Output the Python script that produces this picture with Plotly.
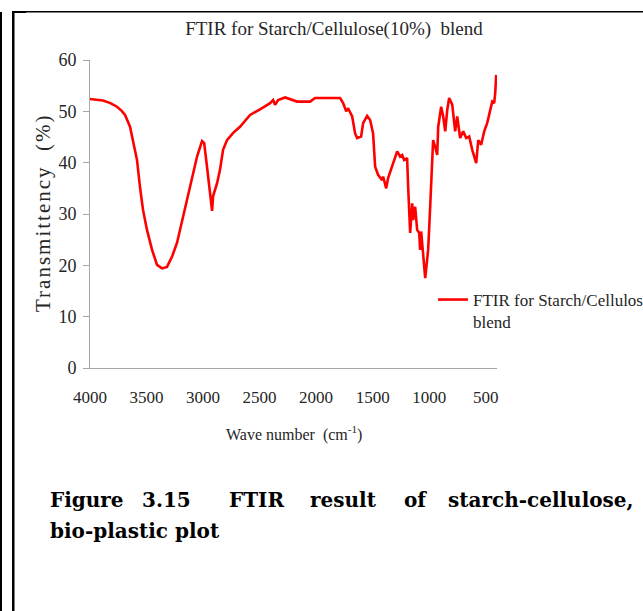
import plotly.graph_objects as go

# ---------------- data ----------------
wavenumber = [4000, 3940, 3885, 3820, 3761, 3720, 3690, 3646, 3619, 3584, 3558, 3531, 3496, 3451,
              3407, 3363, 3319, 3274, 3230, 3177, 3115, 3053, 3009, 2990, 2965, 2938, 2920, 2911,
              2876, 2850, 2823, 2788, 2734, 2673, 2584, 2496, 2407, 2380, 2363, 2336, 2274, 2168,
              2053, 2009, 1788, 1761, 1734, 1717, 1681, 1655, 1637, 1602, 1584, 1549, 1522, 1496,
              1478, 1451, 1416, 1407, 1380, 1363, 1318, 1283, 1257, 1239, 1221, 1195, 1186, 1168,
              1150, 1142, 1124, 1106, 1088, 1080, 1071, 1053, 1035, 1018, 1009, 991, 973, 965,
              947, 929, 920, 894, 876, 858, 840, 823, 796, 770, 752, 726, 699, 672, 646, 619,
              584, 566, 540, 513, 487, 460, 442, 425, 416, 407]
transmittance = [52.4, 52.3, 52.1, 51.6, 50.9, 50.1, 49.3, 47.0, 44.4, 40.5, 35.3, 30.8, 26.9, 23.0,
                 20.1, 19.4, 19.7, 21.7, 24.4, 29.5, 35.3, 41.2, 44.2, 43.8, 39.2, 34.1, 30.6, 33.5,
                 36.0, 38.6, 42.5, 44.4, 45.8, 47.0, 49.3, 50.4, 51.6, 52.2, 51.3, 52.2, 52.7, 51.9,
                 51.9, 52.6, 52.6, 51.6, 50.0, 50.6, 49.0, 45.7, 44.8, 45.1, 47.7, 49.1, 48.3, 45.7,
                 39.2, 37.6, 36.6, 37.3, 35.0, 37.0, 39.9, 42.2, 41.2, 41.5, 40.5, 40.9, 35.3, 26.3,
                 32.1, 28.8, 31.4, 26.9, 26.3, 23.0, 26.6, 21.7, 17.5, 21.1, 23.0, 31.4, 39.2, 44.4,
                 43.1, 41.5, 47.0, 50.9, 49.0, 46.1, 50.3, 52.6, 51.3, 46.1, 49.0, 44.8, 46.1, 44.8,
                 45.1, 42.5, 39.9, 44.4, 43.5, 46.1, 47.7, 50.3, 51.9, 51.6, 53.5, 57.1]

x_ticks = [4000, 3500, 3000, 2500, 2000, 1500, 1000, 500]
y_ticks = [0, 10, 20, 30, 40, 50, 60]

chart_title = "FTIR for Starch/Cellulose(10%)  blend"
series_name = "FTIR for Starch/Cellulose<br>blend"
caption_line1 = ["Figure", "3.15", "FTIR", "result", "of", "starch-cellulose,"]
caption_line2 = "bio-plastic plot"

# ---------------- layout geometry (pixels) ----------------
W_PX, H_PX = 643, 611
L, R, T, B = 90, 497, 60, 368
PW, PH = R - L, B - T


def px_x(p):
    return (p - L) / PW


def px_y(p):
    return (B - p) / PH


SERIF = "Liberation Serif, Times New Roman, serif"
TXT = "#262626"
AX = "#a6a6a6"

fig = go.Figure()
fig.add_trace(go.Scatter(x=wavenumber, y=transmittance, mode="lines",
                         line=dict(color="#ff0000", width=2.6),
                         name=series_name, showlegend=True))

fig.update_layout(
    width=W_PX, height=H_PX,
    margin=dict(l=L, r=W_PX - R, t=T, b=H_PX - B, autoexpand=False),
    paper_bgcolor="white", plot_bgcolor="white",
    title=dict(text=chart_title, xref="container", yref="container",
               x=334 / W_PX, y=1 - 28 / H_PX, xanchor="center", yanchor="middle",
               font=dict(family=SERIF, size=19, color=TXT)),
    xaxis=dict(range=[4000, 400], tickvals=x_ticks, ticktext=[str(v) for v in x_ticks],
               showgrid=False, zeroline=False, showline=True, linecolor=AX, linewidth=1,
               ticks="", ticklabelstandoff=14,
               tickfont=dict(family=SERIF, size=17, color=TXT)),
    yaxis=dict(range=[0, 60], tickvals=y_ticks, showgrid=False, zeroline=False,
               showline=True, linecolor=AX, linewidth=1, ticks="outside", ticklen=6,
               tickcolor=AX, ticklabelstandoff=3,
               tickfont=dict(family=SERIF, size=18, color=TXT)),
    legend=dict(x=px_x(433), y=px_y(282), xanchor="left", yanchor="top",
                valign="top", bgcolor="rgba(0,0,0,0)", itemwidth=30,
                font=dict(family=SERIF, size=17, color=TXT)),
    showlegend=True,
)

annotations = [
    dict(text='<span style="letter-spacing:2px">Transmittency\u00a0\u00a0(%)</span>',
         x=px_x(43), y=px_y(213), xref="paper", yref="paper", textangle=-90,
         showarrow=False, xanchor="center", yanchor="middle",
         font=dict(family=SERIF, size=21, color=TXT)),
    dict(text="Wave number\u00a0\u00a0(cm<sup>-1</sup>)",
         x=px_x(294), y=px_y(434), xref="paper", yref="paper",
         showarrow=False, xanchor="center", yanchor="middle",
         font=dict(family=SERIF, size=16, color=TXT)),
]

cap_font = dict(family="DejaVu Serif", size=20, color="black")
cap_x = [48, 140, 227, 308, 402]
for word, xp in zip(caption_line1[:-1], cap_x):
    annotations.append(dict(text="<b>%s</b>" % word, x=px_x(xp), y=px_y(500),
                            xref="paper", yref="paper", showarrow=False,
                            xanchor="left", yanchor="middle", font=cap_font))
annotations.append(dict(text="<b>%s</b>" % caption_line1[-1], x=px_x(636), y=px_y(500),
                        xref="paper", yref="paper", showarrow=False,
                        xanchor="right", yanchor="middle", font=cap_font))
annotations.append(dict(text="<b>%s</b>" % caption_line2, x=px_x(48), y=px_y(531),
                        xref="paper", yref="paper", showarrow=False,
                        xanchor="left", yanchor="middle", font=cap_font))
fig.update_layout(annotations=annotations)

# page border lines (scanned document frame)
shapes = []
for x0, x1, y0, y1 in [(0, 2, 12, H_PX), (12, 14.5, 11, H_PX), (12, W_PX, 11, 12.5), (12, 26, 11, 13)]:
    shapes.append(dict(type="rect", xref="paper", yref="paper",
                       x0=px_x(x0), x1=px_x(x1), y0=px_y(y1), y1=px_y(y0),
                       fillcolor="black", line=dict(width=0), layer="above"))
fig.update_layout(shapes=shapes)

fig.write_html("out.html")
